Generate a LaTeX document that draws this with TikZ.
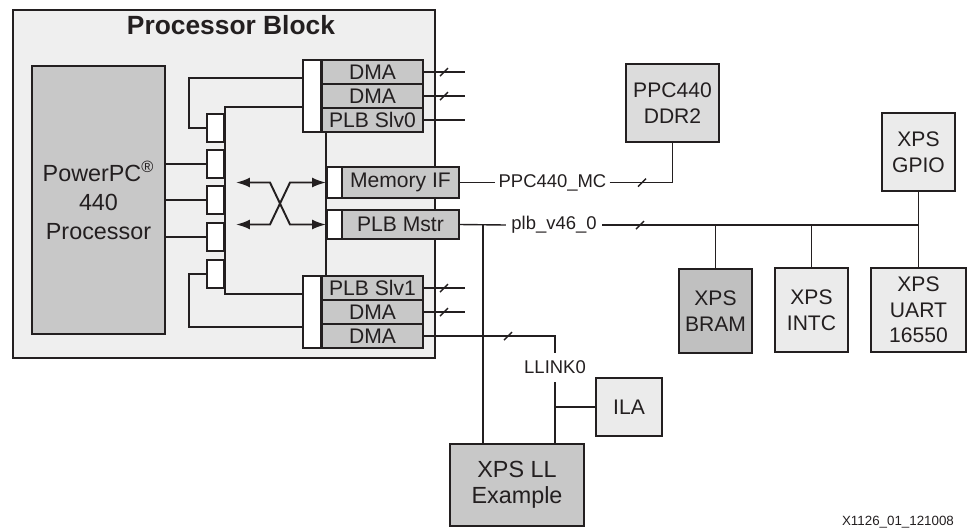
\documentclass[tikz,border=0pt]{standalone}
\usepackage{fontspec}
\setmainfont{Liberation Sans}
\usetikzlibrary{arrows.meta}
\definecolor{ink}{HTML}{231F20}
\definecolor{blkgray}{HTML}{EFEFEF}
\definecolor{midgray}{HTML}{C8C8C8}
\definecolor{bramgray}{HTML}{C0C0C0}
\definecolor{ddrgray}{HTML}{DCDCDC}
\definecolor{ltgray}{HTML}{EBEBEB}
\tikzset{
  box/.style={draw=ink, line width=1.6pt, inner sep=0pt, align=center, text=ink,
    font=\fontsize{12}{14.6}\selectfont},
  cell/.style={draw=ink, line width=1.1pt, fill=midgray, inner sep=0pt, text=ink,
    minimum width=2.02cm, minimum height=0.48cm, font=\fontsize{12}{14}\selectfont},
  strip/.style={draw=ink, line width=1.1pt, fill=white, inner sep=0pt},
  port/.style={strip, minimum width=0.34cm, minimum height=0.56cm},
  wire/.style={draw=ink, line width=0.8pt},
  bus/.style={draw=ink, line width=1.2pt},
  xarrow/.style={draw=ink, line width=1.1pt,
    {Latex[length=2.8mm,width=2mm]}-{Latex[length=2.8mm,width=2mm]}},
  lbl/.style={text=ink, font=\fontsize{10.5}{12}\selectfont},
  busmark/.pic={\draw[ink, line width=0.8pt] (-4,4) -- (4,-4);}
}
\begin{document}
\begin{tikzpicture}[x=0.02cm, y=-0.02cm]
        \useasboundingbox (0,0) rectangle (968,529);

        % Processor block
        \node[box, fill=blkgray, minimum width=8.44cm, minimum height=6.96cm] (pblk) at (224,184) {};
        \node[text=ink, font=\bfseries\fontsize{15}{18}\selectfont] (ptitle) at (231,25) {Processor Block};
        \node[box, fill=midgray, minimum width=2.66cm, minimum height=5.36cm,
              font=\fontsize{13.3}{16.4}\selectfont] (ppc) at (98.5,200) {PowerPC\textsuperscript{®}\\440\\Processor};

        % Crossbar ports
        \node[port] (p1) at (215.5,128) {};
        \node[port] (p2) at (215.5,164) {};
        \node[port] (p3) at (215.5,200) {};
        \node[port] (p4) at (215.5,237) {};
        \node[port] (p5) at (215.5,274) {};

        % Top slave group
        \node[strip, minimum width=0.36cm, minimum height=1.44cm] (tstrip) at (312,96) {};
        \node[cell] (tdma1) at (372.5,72) {DMA};
        \node[cell] (tdma2) at (372.5,96) {DMA};
        \node[cell] (tslv0) at (372.5,120) {PLB Slv0};

        % Bottom slave group
        \node[strip, minimum width=0.36cm, minimum height=1.44cm] (bstrip) at (312,312) {};
        \node[cell] (bslv1) at (372.5,288) {PLB Slv1};
        \node[cell] (bdma1) at (372.5,312) {DMA};
        \node[cell] (bdma2) at (372.5,336) {DMA};

        % Masters
        \node[strip, minimum width=0.3cm, minimum height=0.62cm] (mstrip) at (334.5,182.5) {};
        \node[cell, minimum width=2.34cm, minimum height=0.62cm] (mif) at (400.5,182.5) {Memory IF};
        \node[strip, minimum width=0.3cm, minimum height=0.58cm] (pstrip) at (334.5,224.5) {};
        \node[cell, minimum width=2.34cm, minimum height=0.58cm] (pmst) at (400.5,224.5) {PLB Mstr};

        % Crossbar lines
        \coordinate (bbus) at (303,294);
        \draw[bus] (tstrip.west |- tslv0.north) -| (p1.north east) -- (p5.south east) |- (bbus);
        \draw[bus] (mstrip.west |- tslv0.south) -- (mstrip.west |- bslv1.north);
        \coordinate (lt) at (189,78);
        \coordinate (lb) at (189,327);
        \draw[wire] (p1.west) -| (lt) -- (tstrip.west |- lt);
        \draw[wire] (p5.west) -| (lb) -- (bstrip.west |- lb);
        \draw[wire] (ppc.east |- p2) -- (p2.west);
        \draw[wire] (ppc.east |- p3) -- (p3.west);
        \draw[wire] (ppc.east |- p4) -- (p4.west);

        % Crossing arrows
        \coordinate (xl1) at (236,182.5);
        \coordinate (xl2) at (236,224.5);
        \draw[xarrow] (xl1) -- (270,182.5) -- (290,224.5) -- (pstrip.west);
        \draw[xarrow] (xl2) -- (270,224.5) -- (290,182.5) -- (mstrip.west);

        % Slave outputs
        \coordinate (xo) at (465,0);
        \draw[wire] (tdma1.east) -- (tdma1.east -| xo);
        \draw[wire] (tdma2.east) -- (tdma2.east -| xo);
        \draw[wire] (tslv0.east) -- (tslv0.east -| xo);
        \draw[wire] (bslv1.east) -- (bslv1.east -| xo);
        \draw[wire] (bdma1.east) -- (bdma1.east -| xo);
        \pic at (444,72) {busmark};
        \pic at (444,96) {busmark};
        \pic at (444,288) {busmark};
        \pic at (444,312) {busmark};

        % Memory controller
        \node[box, fill=ddrgray, minimum width=1.86cm, minimum height=1.56cm] (ddr) at (672.5,103) {PPC440\\DDR2};
        \node[lbl, inner sep=1.7pt] (mcl) at (552.5,182.5) {PPC440\_MC};
        \draw[wire] (mif.east) -- (mcl.west);
        \draw[wire] (mcl.east) -| (ddr.south);
        \pic at (642,182.5) {busmark};

        % PLB peripherals
        \node[box, fill=ltgray, minimum width=1.46cm, minimum height=1.56cm] (gpio) at (918.5,152) {XPS\\GPIO};
        \node[box, fill=bramgray, minimum width=1.46cm, minimum height=1.68cm] (bram) at (715.5,311) {XPS\\BRAM};
        \node[box, fill=ltgray, minimum width=1.46cm, minimum height=1.68cm] (intc) at (811.5,310) {XPS\\INTC};
        \node[box, fill=ltgray, minimum width=1.9cm, minimum height=1.68cm] (uart) at (918.5,310) {XPS\\UART\\16550};
        \node[lbl, inner sep=3pt] (plbl) at (554,225) {plb\_v46\_0};
        \draw[wire] (pmst.east) -- (plbl.west);
        \draw[wire] (plbl.east) -- (gpio.south |- plbl.east);
        \draw[wire] (gpio.south) -- (uart.north);
        \draw[wire] (bram.north) -- (bram.north |- plbl.east);
        \draw[wire] (intc.north) -- (intc.north |- plbl.east);
        \pic at (640,225) {busmark};

        % LocalLink example
        \node[box, fill=midgray, minimum width=2.68cm, minimum height=1.64cm,
              font=\fontsize{13.3}{14.7}\selectfont] (llx) at (517,485) {XPS LL\\Example};
        \node[box, fill=ltgray, minimum width=1.32cm, minimum height=1.16cm] (ila) at (629,407) {ILA};
        \node[lbl, inner xsep=2pt, inner ysep=4.5pt] (llk) at (555,367.5) {LLINK0};
        \coordinate (jx) at (483,225);
        \draw[wire] (jx) -- (jx |- llx.north);
        \draw[wire] (bdma2.east) -| (llk.north);
        \draw[wire] (llk.south) -- (llk.south |- llx.north);
        \draw[wire] (ila.west) -- (ila.west -| llk.south);
        \pic at (508,336) {busmark};

        \node[text=ink, font=\fontsize{7.6}{9}\selectfont] (fig) at (898,522) {X1126\_01\_121008};
    \end{tikzpicture}
\end{document}
